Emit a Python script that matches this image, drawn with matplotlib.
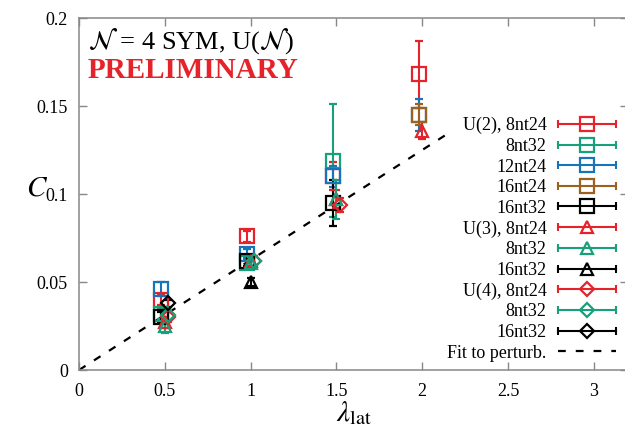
import numpy as np
import matplotlib
matplotlib.use("Agg")
import matplotlib.pyplot as plt
from matplotlib.lines import Line2D
from matplotlib.container import ErrorbarContainer
from matplotlib.legend_handler import HandlerBase
from matplotlib.ticker import FormatStrFormatter

plt.rcParams["font.family"] = ["Liberation Serif", "DejaVu Serif"]
plt.rcParams["mathtext.fontset"] = "stix"

RED = "#e5232b"
GREEN = "#17a07a"
BLUE = "#1874b8"
BROWN = "#9c601f"
BLACK = "#000000"

# lattice coupling values and C(lambda) with errors, one entry per ensemble
lam_u2_8nt24 = [0.5, 1.0, 1.5, 2.0]
c_u2_8nt24 = [0.040, 0.076, 0.110, 0.168]
e_u2_8nt24 = [0.003, 0.003, 0.008, 0.019]

lam_u2_8nt32 = [0.5, 1.0, 1.5]
c_u2_8nt32 = [0.032, 0.061, 0.119]
e_u2_8nt32 = [0.003, 0.003, 0.032]

lam_u2_12nt24 = [0.5, 1.0, 1.5, 2.0]
c_u2_12nt24 = [0.046, 0.066, 0.110, 0.145]
e_u2_12nt24 = [0.004, 0.003, 0.006, 0.009]

lam_u2_16nt24 = [2.0]
c_u2_16nt24 = [0.145]
e_u2_16nt24 = [0.006]

lam_u2_16nt32 = [0.5, 1.0, 1.5]
c_u2_16nt32 = [0.030, 0.062, 0.095]
e_u2_16nt32 = [0.003, 0.003, 0.013]

lam_u3_8nt24 = [0.5, 1.0, 1.5, 2.0]
c_u3_8nt24 = [0.027, 0.062, 0.097, 0.136]
e_u3_8nt24 = [0.003, 0.003, 0.005, 0.005]

lam_u3_8nt32 = [0.5, 1.0, 1.5]
c_u3_8nt32 = [0.025, 0.061, 0.097]
e_u3_8nt32 = [0.004, 0.003, 0.011]

lam_u3_16nt32 = [1.0]
c_u3_16nt32 = [0.050]
e_u3_16nt32 = [0.002]

lam_u4_8nt24 = [0.5, 1.0, 1.5]
c_u4_8nt24 = [0.030, 0.062, 0.094]
e_u4_8nt24 = [0.003, 0.003, 0.004]

lam_u4_8nt32 = [0.5, 1.0]
c_u4_8nt32 = [0.031, 0.062]
e_u4_8nt32 = [0.003, 0.003]

lam_u4_16nt32 = [0.5]
c_u4_16nt32 = [0.038]
e_u4_16nt32 = [0.002]

# perturbative fit C = slope * lambda
fit_slope = 0.0625
fit_lam = [0.0, 2.15]

series = [
    ("U(2), 8nt24", lam_u2_8nt24, c_u2_8nt24, e_u2_8nt24, RED, "s"),
    ("8nt32", lam_u2_8nt32, c_u2_8nt32, e_u2_8nt32, GREEN, "s"),
    ("12nt24", lam_u2_12nt24, c_u2_12nt24, e_u2_12nt24, BLUE, "s"),
    ("16nt24", lam_u2_16nt24, c_u2_16nt24, e_u2_16nt24, BROWN, "s"),
    ("16nt32", lam_u2_16nt32, c_u2_16nt32, e_u2_16nt32, BLACK, "s"),
    ("U(3), 8nt24", lam_u3_8nt24, c_u3_8nt24, e_u3_8nt24, RED, "^"),
    ("8nt32", lam_u3_8nt32, c_u3_8nt32, e_u3_8nt32, GREEN, "^"),
    ("16nt32", lam_u3_16nt32, c_u3_16nt32, e_u3_16nt32, BLACK, "^"),
    ("U(4), 8nt24", lam_u4_8nt24, c_u4_8nt24, e_u4_8nt24, RED, "D"),
    ("8nt32", lam_u4_8nt32, c_u4_8nt32, e_u4_8nt32, GREEN, "D"),
    ("16nt32", lam_u4_16nt32, c_u4_16nt32, e_u4_16nt32, BLACK, "D"),
]
# small horizontal shift per gauge group so the points don't sit on top of each other
shift = {"s": -0.02, "^": 0.0, "D": 0.02}
msize = {"s": 10, "^": 8, "D": 7}


class HorizontalErrHandler(HandlerBase):
    # legend entry: horizontal bar with end caps and the open marker in the middle
    def create_artists(self, legend, orig_handle, xdescent, ydescent,
                       width, height, fontsize, trans):
        src = orig_handle[0]
        col = src.get_markeredgecolor()
        y = height / 2 - ydescent
        x0, x1 = -xdescent, width - xdescent
        bar = Line2D([x0, x1], [y, y], color=col, lw=1.5)
        caps = Line2D([x0, x1], [y, y], ls="none", marker="|", ms=6,
                      mew=1.5, color=col)
        mark = Line2D([(x0 + x1) / 2], [y], ls="none", marker=src.get_marker(),
                      ms=src.get_markersize(), mfc="none", mec=col,
                      mew=src.get_markeredgewidth())
        for a in (bar, caps, mark):
            a.set_transform(trans)
        return [bar, caps, mark]


fig = plt.figure(figsize=(6.25, 4.3), dpi=100)
ax = fig.add_axes([0.1264, 0.1395, 0.8786, 0.8186])

fit_x = np.array(fit_lam)
fit_line, = ax.plot(fit_x, fit_slope * fit_x, color="black", lw=1.6,
                    dashes=(3.5, 4.5), zorder=1, label="Fit to perturb.")

handles = []
for label, lam, c, err, col, mk in series:
    x = np.array(lam) + shift[mk]
    h = ax.errorbar(x, c, yerr=err, fmt=mk, color=col, mfc="none", mec=col,
                    ms=msize[mk], mew=1.6, elinewidth=1.5, capsize=3,
                    capthick=1.5, label=label, zorder=3)
    handles.append(h)
handles.append(fit_line)

ax.set_xlim(0, 3.2)
ax.set_ylim(0, 0.2)
ax.set_xticks([0, 0.5, 1, 1.5, 2, 2.5, 3])
ax.set_yticks([0, 0.05, 0.1, 0.15, 0.2])
ax.xaxis.set_major_formatter(FormatStrFormatter("%g"))
ax.yaxis.set_major_formatter(FormatStrFormatter("%g"))
ax.tick_params(direction="in", length=6, width=1, color="#888888",
               labelsize=13, top=True, right=True)
ax.tick_params(axis="x", pad=9)
ax.tick_params(axis="y", pad=8)
for sp in ax.spines.values():
    sp.set_color("#888888")
    sp.set_linewidth(1.1)

ax.set_xlabel(r"$\lambda_{\mathrm{lat}}$", fontsize=21, labelpad=0)
ax.set_ylabel(r"$C$", fontsize=21, rotation=0, va="center", ha="center")
ax.yaxis.set_label_coords(-0.077, 0.515)

ax.text(0.016, 0.935, r"$\mathcal{N}$ = 4 SYM, U($\mathcal{N}$)",
        transform=ax.transAxes, fontsize=19, va="center", ha="left")
ax.text(0.016, 0.85, "PRELIMINARY", transform=ax.transAxes, fontsize=21,
        fontweight="bold", color=RED, va="center", ha="left")

leg = ax.legend(handles=handles, loc="upper right",
                bbox_to_anchor=(616 / 625, 1 - 117 / 430),
                bbox_transform=fig.transFigure, frameon=False,
                markerfirst=False, fontsize=13, handlelength=3.2,
                handletextpad=0.65, labelspacing=0.2, borderpad=0,
                borderaxespad=0,
                handler_map={ErrorbarContainer: HorizontalErrHandler()})

fig.savefig("out.png", dpi=100)
